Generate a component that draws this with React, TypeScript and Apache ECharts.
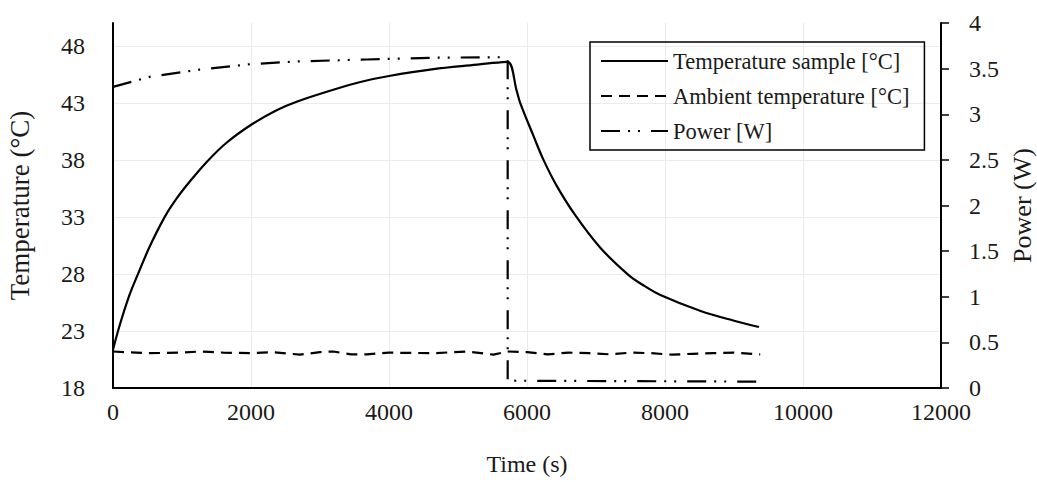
import React, { useEffect, useRef } from "react";
import * as echarts from "echarts";

// Temperature sample [°C]
const sampleTime = [0, 97, 242, 363, 532, 750, 920, 1113, 1355, 1645, 2008, 2371, 2661, 3193, 3600, 4000, 4644, 5274, 5500, 5718, 5853, 5901, 6094, 6239, 6433, 6699, 7062, 7473, 7700, 7933, 8516, 9000, 9362];
const sampleTemp = [21.36, 23.5, 26.2, 28.0, 30.4, 33.0, 34.6, 36.1, 37.8, 39.5, 41.1, 42.35, 43.1, 44.15, 44.85, 45.35, 45.95, 46.35, 46.5, 46.6, 44.0, 43.0, 40.1, 38.0, 35.7, 33.15, 30.3, 27.9, 26.95, 26.15, 24.75, 23.9, 23.35];

// Ambient temperature [°C]
const ambientTime = [0, 500, 1000, 1258, 1600, 2000, 2300, 2709, 3000, 3193, 3450, 3677, 4000, 4644, 5128, 5515, 5718, 6000, 6300, 6600, 6900, 7200, 7500, 7800, 8100, 8400, 8700, 9000, 9380];
const ambientTemp = [21.2, 21.05, 21.1, 21.2, 21.1, 21.05, 21.15, 20.92, 21.15, 21.2, 20.95, 20.95, 21.1, 21.05, 21.2, 20.92, 21.2, 21.15, 20.95, 21.1, 21.05, 20.95, 21.1, 21.05, 20.92, 21.0, 21.05, 21.1, 20.95];

// Power [W]
const powerTime = [0, 532, 1258, 2008, 2710, 3677, 4644, 5685, 5720, 5720, 9380];
const powerValue = [3.30, 3.41, 3.49, 3.55, 3.58, 3.60, 3.62, 3.625, 3.625, 0.08, 0.07];

const leftTicks = [18, 23, 28, 33, 38, 43, 48];

const seriesNames = ["Temperature sample [°C]", "Ambient temperature [°C]", "Power [W]"];

const FONT = "Liberation Serif";

function zip(xs: number[], ys: number[]) {
  return xs.map((x, i) => [x, ys[i]]);
}

export default function App() {
  const ref = useRef<HTMLDivElement>(null);
  useEffect(() => {
    document.body.style.margin = "0";
    const chart = echarts.init(ref.current!, null, { renderer: "svg" });
    const txt = { fontFamily: FONT, color: "#1a1a1a" };
    chart.setOption({
      animation: false,
      backgroundColor: "#ffffff",
      textStyle: { fontFamily: FONT },
      grid: { left: 113, right: 96, top: 23, bottom: 94, containLabel: false, outerBoundsMode: "none" },
      legend: {
        orient: "vertical",
        left: 590,
        top: 42,
        padding: [7, 15, 7, 10],
        borderColor: "#000",
        borderWidth: 1.5,
        itemWidth: 67,
        itemHeight: 14,
        itemGap: 11,
        itemStyle: { opacity: 0 },
        textStyle: { ...txt, fontSize: 22.5, lineHeight: 24 },
        data: seriesNames,
      },
      xAxis: {
        type: "value",
        min: 0,
        max: 12000,
        interval: 2000,
        name: "Time (s)",
        nameLocation: "middle",
        nameGap: 64,
        nameTextStyle: { ...txt, fontSize: 24 },
        axisLine: { onZero: false, lineStyle: { color: "#000", width: 2 } },
        axisTick: { show: false },
        axisLabel: { ...txt, fontSize: 24, margin: 12, formatter: (v: number) => String(v) },
        splitLine: { show: true, lineStyle: { color: "#ebebeb", width: 1 } },
      },
      yAxis: [
        {
          type: "value",
          min: 18,
          max: 50,
          name: "Temperature (°C)",
          nameLocation: "middle",
          nameGap: 80,
          nameTextStyle: { ...txt, fontSize: 27 },
          axisLine: { show: true, onZero: false, lineStyle: { color: "#000", width: 2 } },
          axisTick: { show: false, customValues: leftTicks },
          axisLabel: { ...txt, fontSize: 24, margin: 28, customValues: leftTicks },
          splitLine: { show: true, lineStyle: { color: "#ebebeb", width: 1 } },
        },
        {
          type: "value",
          min: 0,
          max: 4,
          interval: 0.5,
          position: "right",
          name: "Power (W)",
          nameLocation: "middle",
          nameGap: 67,
          nameTextStyle: { ...txt, fontSize: 26 },
          axisLine: { show: true, onZero: false, lineStyle: { color: "#000", width: 2 } },
          axisTick: { show: true, inside: false, length: 8, lineStyle: { color: "#000", width: 1.5 } },
          axisLabel: { ...txt, fontSize: 24, margin: 28 },
          splitLine: { show: false },
        },
      ],
      series: [
        {
          name: seriesNames[0],
          type: "line",
          symbol: "none",
          data: zip(sampleTime, sampleTemp),
          smooth: 0.35,
          lineStyle: { color: "#000", width: 2.2, type: "solid" },
          itemStyle: { color: "#000" },
        },
        {
          name: seriesNames[1],
          type: "line",
          symbol: "none",
          data: zip(ambientTime, ambientTemp),
          lineStyle: { color: "#000", width: 2.2, type: [11, 7] },
          itemStyle: { color: "#000" },
        },
        {
          name: seriesNames[2],
          type: "line",
          symbol: "none",
          yAxisIndex: 1,
          data: zip(powerTime, powerValue),
          lineStyle: { color: "#000", width: 2.2, type: [19, 8, 2, 8, 2, 11] },
          itemStyle: { color: "#000" },
        },
      ],
    });
    return () => chart.dispose();
  }, []);
  return <div ref={ref} style={{ width: 1037, height: 482 }} />;
}
